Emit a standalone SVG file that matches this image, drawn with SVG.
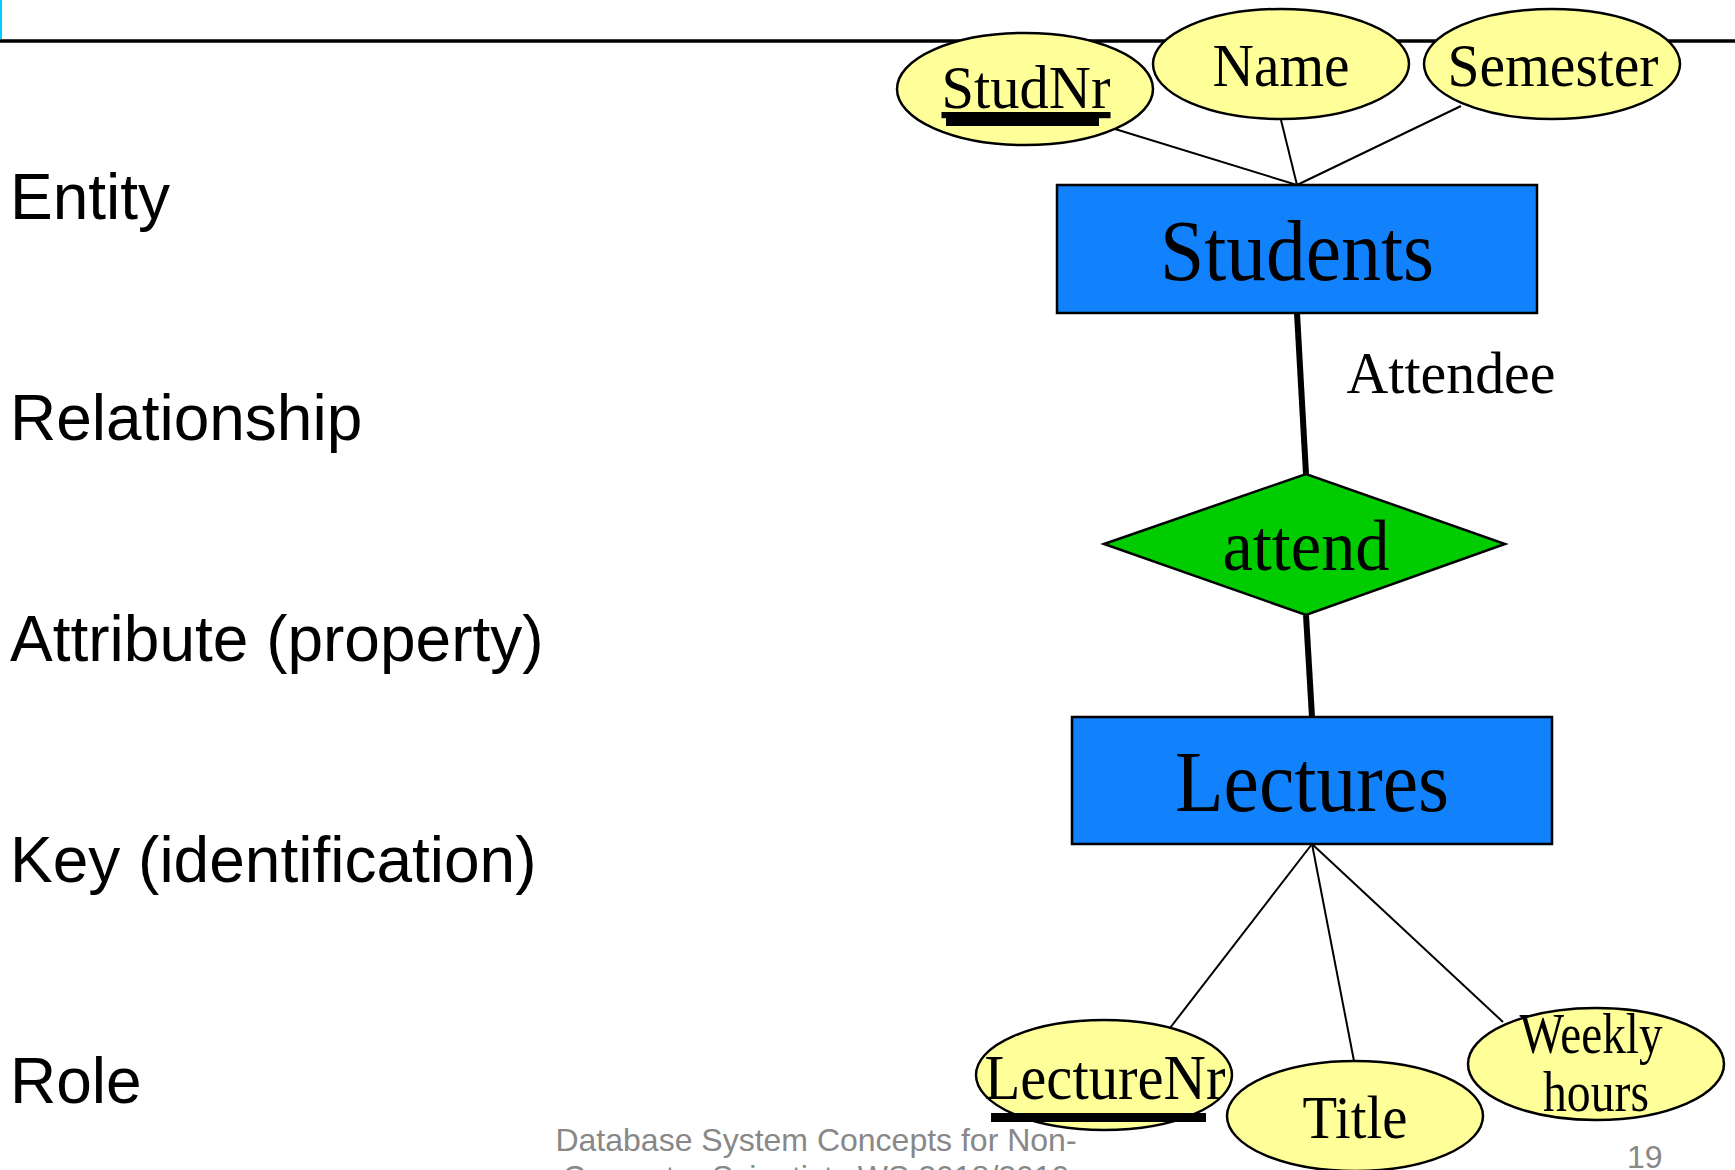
<svg xmlns="http://www.w3.org/2000/svg" width="1735" height="1170" viewBox="0 0 1735 1170">
<style>
.lbl{font-family:"Liberation Sans",Arial,sans-serif;font-size:64px;fill:#000}
.tm{font-family:"Liberation Serif","Times New Roman",serif;fill:#000;text-anchor:middle}
.attr{fill:#ffff99;stroke:#000;stroke-width:2.5}
.ent{fill:#1282fc;stroke:#000;stroke-width:2.5}
.rel{fill:#00cc00;stroke:#000;stroke-width:2.5}
.thin{stroke:#000;stroke-width:2;fill:none}
.thick{stroke:#000;stroke-width:6;fill:none}
.foot{font-family:"Liberation Sans",Arial,sans-serif;font-size:32px;fill:#888}
</style>
<rect width="1735" height="1170" fill="#fff"/>
<rect x="0" y="0" width="2" height="39" fill="#00ccff"/>
<line x1="0" y1="41" x2="1735" y2="41" stroke="#000" stroke-width="3.5"/>

<g id="legend">
<text class="lbl" x="10" y="219">Entity</text>
<text class="lbl" x="10" y="440">Relationship</text>
<text class="lbl" x="10" y="661">Attribute (property)</text>
<text class="lbl" x="10" y="882">Key (identification)</text>
<text class="lbl" x="10" y="1103">Role</text>
</g>

<g id="connectors">
<line class="thin" x1="1297" y1="185" x2="1115" y2="129"/>
<line class="thin" x1="1297" y1="185" x2="1281" y2="120"/>
<line class="thin" x1="1297" y1="185" x2="1461" y2="106"/>
<line class="thick" x1="1297" y1="313" x2="1306" y2="474"/>
<line class="thick" x1="1306" y1="615" x2="1312" y2="717"/>
<line class="thin" x1="1312" y1="844" x2="1170" y2="1028"/>
<line class="thin" x1="1312" y1="844" x2="1354" y2="1061"/>
<line class="thin" x1="1312" y1="844" x2="1503" y2="1022"/>
<text class="tm" x="1451" y="393" font-size="60" textLength="209" lengthAdjust="spacingAndGlyphs">Attendee</text>
</g>

<g id="StudNr">
<ellipse class="attr" cx="1025" cy="89" rx="128" ry="56"/>
<text class="tm" x="1026" y="108" font-size="62" textLength="169" lengthAdjust="spacingAndGlyphs" text-decoration="underline">StudNr</text>
<rect x="946" y="115" width="153" height="11" fill="#000"/>
</g>

<g id="Name">
<ellipse class="attr" cx="1281" cy="64" rx="128" ry="55"/>
<text class="tm" x="1281" y="86" font-size="62" textLength="137" lengthAdjust="spacingAndGlyphs">Name</text>
</g>

<g id="Semester">
<ellipse class="attr" cx="1552" cy="64" rx="128" ry="55"/>
<text class="tm" x="1553" y="86" font-size="62" textLength="211" lengthAdjust="spacingAndGlyphs">Semester</text>
</g>

<g id="Students">
<rect class="ent" x="1057" y="185" width="480" height="128"/>
<text class="tm" x="1297" y="280" font-size="86" textLength="274" lengthAdjust="spacingAndGlyphs">Students</text>
</g>

<g id="attend">
<polygon class="rel" points="1104,544 1306,474 1505,544 1306,615"/>
<text class="tm" x="1306" y="570" font-size="72" textLength="167" lengthAdjust="spacingAndGlyphs">attend</text>
</g>

<g id="Lectures">
<rect class="ent" x="1072" y="717" width="480" height="127"/>
<text class="tm" x="1312" y="811" font-size="86" textLength="274" lengthAdjust="spacingAndGlyphs">Lectures</text>
</g>

<g id="LectureNr">
<ellipse class="attr" cx="1104" cy="1075" rx="128" ry="55"/>
<text class="tm" x="1105" y="1099" font-size="63" textLength="241" lengthAdjust="spacingAndGlyphs">LectureNr</text>
<rect x="991" y="1113" width="215" height="9" fill="#000"/>
</g>

<g id="Title">
<ellipse class="attr" cx="1355" cy="1116" rx="128" ry="55"/>
<text class="tm" x="1355" y="1138" font-size="62" textLength="105" lengthAdjust="spacingAndGlyphs">Title</text>
</g>

<g id="WeeklyHours">
<ellipse class="attr" cx="1596" cy="1064" rx="128" ry="56"/>
<text class="tm" x="1591" y="1053" font-size="56" textLength="143" lengthAdjust="spacingAndGlyphs">Weekly</text>
<text class="tm" x="1596" y="1111" font-size="56" textLength="106" lengthAdjust="spacingAndGlyphs">hours</text>
</g>

<g id="footer">
<text class="foot" x="816" y="1151" text-anchor="middle">Database System Concepts for Non-</text>
<text class="foot" x="816" y="1188" text-anchor="middle">Computer Scientists WS 2018/2019</text>
<text class="foot" x="1627" y="1168">19</text>
</g>
</svg>
